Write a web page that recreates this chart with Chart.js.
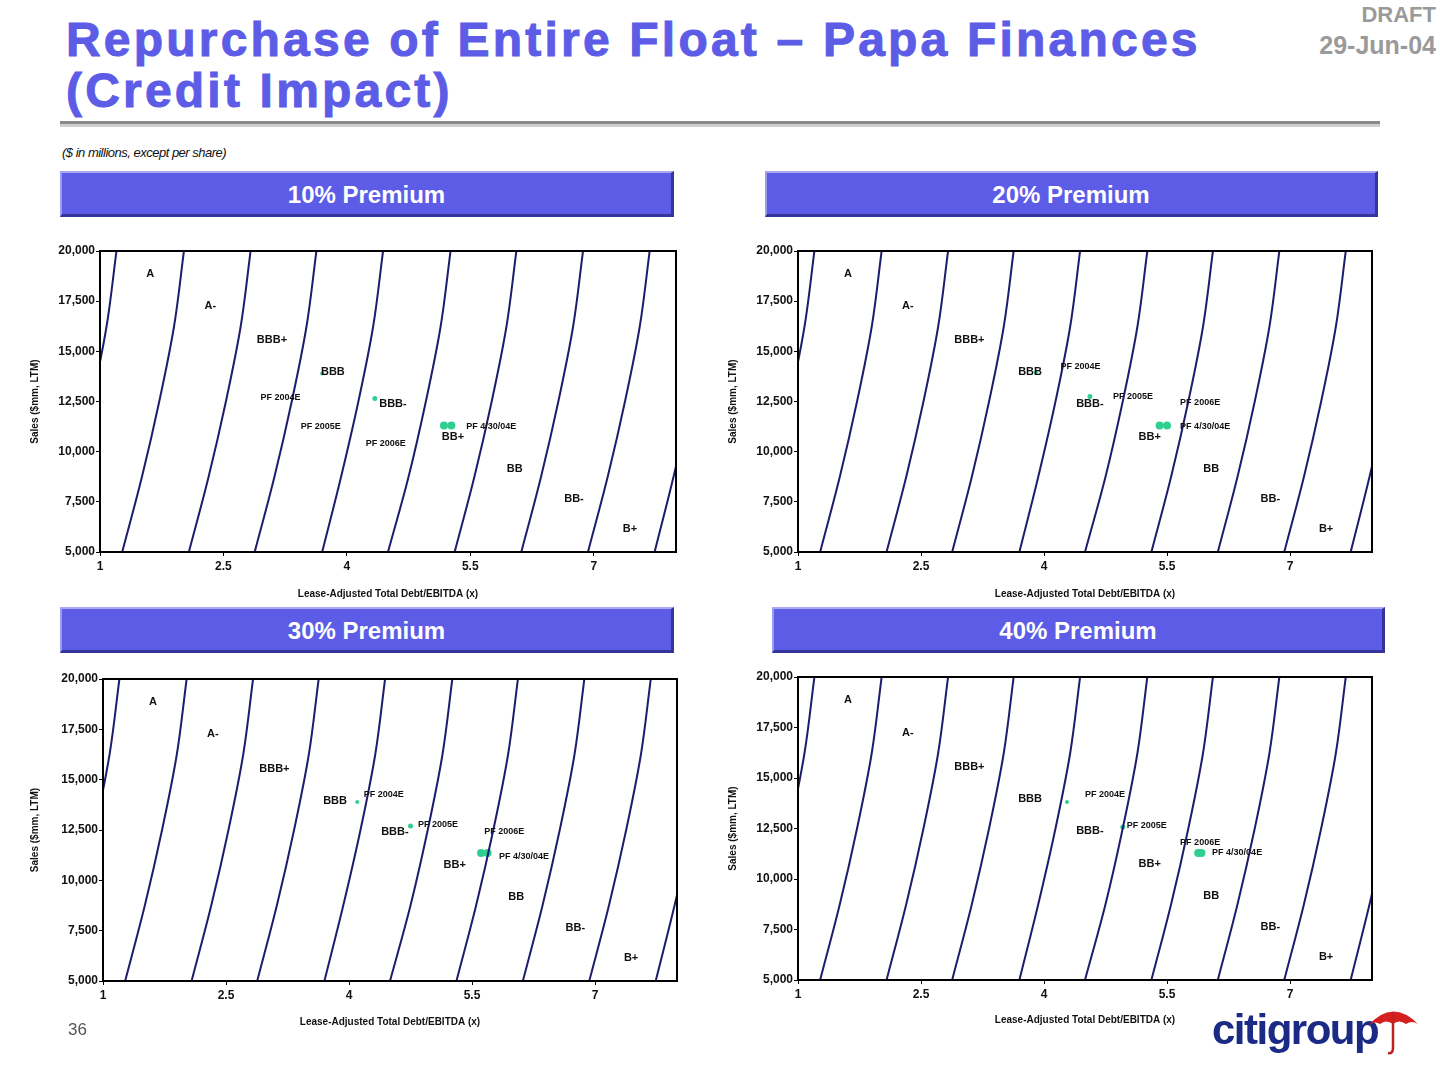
<!DOCTYPE html>
<html>
<head>
<meta charset="utf-8">
<script src="https://cdn.jsdelivr.net/npm/chart.js@4.4.1/dist/chart.umd.min.js"></script>
<style>
  html, body { margin: 0; padding: 0; background: #fff; }
  body { width: 1440px; height: 1080px; position: relative; overflow: hidden; font-family: "Liberation Sans", Arial, sans-serif; }
  .title { position: absolute; left: 66px; top: 14px; color: #5c5ce6; font-weight: bold; font-size: 48px; line-height: 51px; letter-spacing: 3.2px; -webkit-text-stroke: 1px #5c5ce6; }
  .rule { position: absolute; left: 60px; top: 121px; width: 1320px; height: 3px; background: #8a8a8a; border-bottom: 3px solid #cfcfcf; }
  .draft { position: absolute; right: 4px; top: 2px; color: #9a9a9a; font-weight: bold; text-align: right; }
  .draft div:first-child { font-size: 22px; line-height: 26px; }
  .draft div:last-child { font-size: 25px; line-height: 34px; }
  .note { position: absolute; left: 62px; top: 145px; font-size: 13px; font-style: italic; color: #111; letter-spacing: -0.5px; }
  .bar { position: absolute; height: 46px; background: #5c5ce6; color: #fff; font-weight: bold; font-size: 24px; line-height: 44px; text-align: center;
         box-sizing: border-box; border-top: 2px solid #a9a9f2; border-left: 2px solid #9c9cef; border-bottom: 3px solid #34349a; border-right: 3px solid #34349a; }
  canvas { position: absolute; }
  .page { position: absolute; left: 68px; top: 1020px; font-size: 17px; color: #555; }
  .logo { position: absolute; left: 1212px; top: 1006px; color: #1b2a84; font-weight: bold; font-size: 42px; letter-spacing: -1.5px; }
  .umb { position: absolute; left: 1366px; top: 1004px; }
</style>
</head>
<body>
<div class="title">Repurchase of Entire Float – Papa Finances<br>(Credit Impact)</div>
<div class="draft"><div>DRAFT</div><div>29-Jun-04</div></div>
<div class="rule"></div>
<div class="note">($ in millions, except per share)</div>

<canvas id="c10" width="665" height="380" style="left:20px;top:232px"></canvas>
<canvas id="c20" width="665" height="380" style="left:718px;top:232px"></canvas>
<canvas id="c30" width="665" height="380" style="left:20px;top:660px"></canvas>
<canvas id="c40" width="665" height="380" style="left:718px;top:658px"></canvas>

<div class="bar" style="left:60px;top:171px;width:614px">10% Premium</div>
<div class="bar" style="left:765px;top:171px;width:613px">20% Premium</div>
<div class="bar" style="left:60px;top:607px;width:614px">30% Premium</div>
<div class="bar" style="left:772px;top:607px;width:613px">40% Premium</div>

<div class="page">36</div>
<div class="logo">citigroup</div>
<svg class="umb" width="56" height="52" viewBox="0 0 56 52">
  <path d="M2 22 Q26 -6 52 20 Q46 16 40 20 Q33 15 27 20 Q20 15 14 20 Q8 16 2 22 Z" fill="#d62020"/>
  <path d="M27 8 L27 44 Q27 50 22 49" stroke="#c02020" stroke-width="2.5" fill="none"/>
</svg>

<script>
// axis ticks
const xTicks = [1, 2.5, 4, 5.5, 7];
const yTicks = [5000, 7500, 10000, 12500, 15000, 17500, 20000];

// rating boundary curves (leverage read at each sales level)
const curveSales = [5000, 8750, 12500, 16250, 20000];
const curve0 = [0.44, 0.69, 0.90, 1.08, 1.20];
const curve1 = [1.27, 1.51, 1.72, 1.90, 2.02];
const curve2 = [2.08, 2.32, 2.53, 2.71, 2.83];
const curve3 = [2.88, 3.12, 3.33, 3.51, 3.63];
const curve4 = [3.70, 3.93, 4.14, 4.32, 4.44];
const curve5 = [4.50, 4.75, 4.96, 5.14, 5.26];
const curve6 = [5.31, 5.55, 5.76, 5.94, 6.06];
const curve7 = [6.12, 6.36, 6.57, 6.75, 6.87];
const curve8 = [6.93, 7.17, 7.38, 7.56, 7.68];
const curve9 = [7.74, 7.97, 8.18, 8.36, 8.48];

// rating band labels
const ratingNames = ['A', 'A-', 'BBB+', 'BBB', 'BBB-', 'BB+', 'BB', 'BB-', 'B+'];
const ratingLeverage = [1.61, 2.34, 3.09, 3.83, 4.56, 5.29, 6.04, 6.76, 7.44];
const ratingSales = [18850, 17250, 15550, 13950, 12400, 10750, 9150, 7650, 6150];

// pro forma cases
const caseNames = ['PF 4/30/04E', 'PF 2004E', 'PF 2005E', 'PF 2006E'];
const leverage10 = [5.27, 5.18, 4.34, 3.70];
const sales10 = [11300, 11300, 12650, 13900];
const leverage20 = [5.50, 5.41, 4.56, 3.90];
const sales20 = [11300, 11300, 12750, 13950];
const leverage30 = [5.69, 5.61, 4.75, 4.10];
const sales30 = [11360, 11360, 12700, 13890];
const leverage40 = [5.92, 5.88, 4.96, 4.28];
const sales40 = [11290, 11290, 12570, 13810];

// where the case labels sit (left edge, in axis units)
const labelX10 = [5.45, 2.95, 3.44, 4.23];
const labelY10 = [11250, 12700, 11250, 10400];
const labelX20 = [5.66, 4.20, 4.84, 5.66];
const labelY20 = [11250, 14250, 12750, 12450];
const labelX30 = [5.83, 4.18, 4.84, 5.65];
const labelY30 = [11160, 14240, 12750, 12400];
const labelX40 = [6.05, 4.50, 5.01, 5.66];
const labelY40 = [11290, 14160, 12670, 11830];

const curves = [curve0, curve1, curve2, curve3, curve4, curve5, curve6, curve7, curve8, curve9];
const pts = (xs, ys) => xs.map((x, i) => ({ x: x, y: ys[i] }));

const textPlugin = {
  id: 'texts',
  afterDatasetsDraw(chart) {
    const ctx = chart.ctx;
    chart.data.datasets.forEach((ds, i) => {
      if (!ds.texts) return;
      const meta = chart.getDatasetMeta(i);
      ctx.save();
      ctx.font = ds.textFont;
      ctx.fillStyle = '#111';
      ctx.textAlign = ds.textAlign;
      ctx.textBaseline = 'middle';
      meta.data.forEach((p, j) => ctx.fillText(ds.texts[j], p.x, p.y));
      ctx.restore();
    });
  },
  afterDraw(chart) {
    const a = chart.chartArea, ctx = chart.ctx;
    ctx.save();
    ctx.strokeStyle = '#000';
    ctx.lineWidth = 2;
    ctx.strokeRect(a.left, a.top, a.right - a.left, a.bottom - a.top);
    ctx.restore();
  }
};

function makeChart(id, lev, sal, lx, ly, box) {
  const datasets = curves.map(c => ({
    data: pts(c, curveSales),
    showLine: true,
    borderColor: '#1d1d6e',
    borderWidth: 2,
    pointRadius: 0,
    tension: 0.35
  }));
  datasets.push({
    data: pts(ratingLeverage, ratingSales),
    pointRadius: 0,
    texts: ratingNames,
    textFont: 'bold 11px "Liberation Sans", Arial',
    textAlign: 'center'
  });
  datasets.push({
    data: pts(lev, sal),
    pointRadius: [4, 4, 2.5, 2],
    pointBackgroundColor: '#2fd08f',
    pointBorderColor: '#2fd08f',
    pointBorderWidth: 0
  });
  datasets.push({
    data: pts(lx, ly),
    pointRadius: 0,
    texts: caseNames,
    textFont: 'bold 9px "Liberation Sans", Arial',
    textAlign: 'left'
  });

  return new Chart(document.getElementById(id), {
    type: 'scatter',
    data: { datasets: datasets },
    plugins: [textPlugin],
    options: {
      responsive: false,
      animation: false,
      devicePixelRatio: 1,
      layout: { padding: { top: box.top, right: box.right, left: 0, bottom: 0 } },
      plugins: { legend: { display: false }, tooltip: { enabled: false } },
      scales: {
        x: {
          type: 'linear', min: 1, max: 8,
          afterBuildTicks: s => { s.ticks = xTicks.map(v => ({ value: v })); },
          afterFit: s => { s.height = box.xh; },
          grid: { display: true, drawOnChartArea: false, tickLength: 4, color: '#000' },
          border: { color: '#000', width: 2 },
          ticks: { color: '#111', font: { family: '"Liberation Sans", Arial', size: 12, weight: 'bold' }, padding: 3, maxRotation: 0 },
          title: { display: true, text: 'Lease-Adjusted Total Debt/EBITDA (x)', color: '#111',
                   font: { family: '"Liberation Sans", Arial', size: 10, weight: 'bold' }, padding: { top: 4, bottom: 12 } }
        },
        y: {
          type: 'linear', min: 5000, max: 20000,
          afterBuildTicks: s => { s.ticks = yTicks.map(v => ({ value: v })); },
          afterFit: s => { s.width = box.yw; },
          grid: { display: true, drawOnChartArea: false, tickLength: 4, color: '#000' },
          border: { color: '#000', width: 2 },
          ticks: { color: '#111', font: { family: '"Liberation Sans", Arial', size: 12, weight: 'bold' }, padding: 1,
                   callback: v => v.toLocaleString('en-US') },
          title: { display: true, text: 'Sales ($mm, LTM)', color: '#111',
                   font: { family: '"Liberation Sans", Arial', size: 10, weight: 'bold' }, padding: { top: 9, bottom: 0 } }
        }
      }
    }
  });
}

makeChart('c10', leverage10, sales10, labelX10, labelY10, { top: 19, right: 9, yw: 80, xh: 60 });
makeChart('c20', leverage20, sales20, labelX20, labelY20, { top: 19, right: 11, yw: 80, xh: 60 });
makeChart('c30', leverage30, sales30, labelX30, labelY30, { top: 19, right: 8, yw: 83, xh: 59 });
makeChart('c40', leverage40, sales40, labelX40, labelY40, { top: 19, right: 11, yw: 80, xh: 58 });
</script>
</body>
</html>
